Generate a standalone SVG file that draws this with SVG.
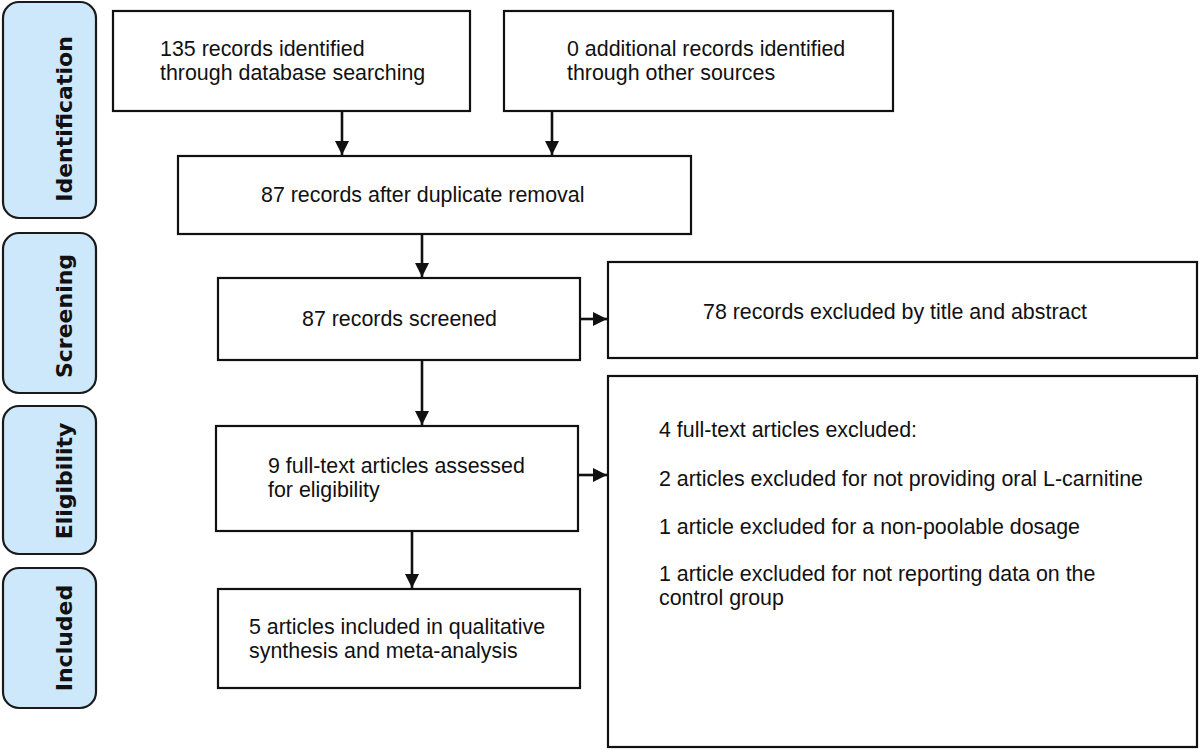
<svg xmlns="http://www.w3.org/2000/svg" width="1200" height="750" viewBox="0 0 1200 750">
<style>
.phase{fill:#cde8fa;stroke:#1a1a1a;stroke-width:2.2}
.ptxt{font-family:"DejaVu Sans",Verdana,sans-serif;font-weight:bold;font-size:22px;fill:#111;text-anchor:middle}
.box{fill:#fff;stroke:#111;stroke-width:2.2}
.t{font-family:"Liberation Sans",Arial,sans-serif;font-size:21.4px;fill:#111}
.conn{stroke:#111;stroke-width:2.6;fill:none}
</style>
<defs>
<marker id="ah" viewBox="0 0 10 10" refX="10" refY="5" markerWidth="5.5" markerHeight="5.5" orient="auto" markerUnits="strokeWidth">
<path d="M0,0 L10,5 L0,10 Z" fill="#111"/>
</marker>
</defs>
<rect width="1200" height="750" fill="#fff"/>
<g id="phase-identification">
<rect class="phase" x="3" y="2" width="93" height="216" rx="16"/>
<text class="ptxt" transform="translate(72,119) rotate(-90)">Identification</text>
</g>
<g id="phase-screening">
<rect class="phase" x="3" y="233" width="93" height="160" rx="16"/>
<text class="ptxt" transform="translate(72,316) rotate(-90)">Screening</text>
</g>
<g id="phase-eligibility">
<rect class="phase" x="3" y="406" width="93" height="148" rx="16"/>
<text class="ptxt" transform="translate(72,481) rotate(-90)">Eligibility</text>
</g>
<g id="phase-included">
<rect class="phase" x="3" y="568" width="93" height="140" rx="16"/>
<text class="ptxt" transform="translate(72,638) rotate(-90)">Included</text>
</g>
<g id="n-database">
<rect class="box" x="113" y="11" width="357" height="100"/>
<text class="t" x="160" y="56">135 records identified</text>
<text class="t" x="160" y="80">through database searching</text>
</g>
<g id="n-other">
<rect class="box" x="504" y="11" width="389" height="100"/>
<text class="t" x="567" y="56">0 additional records identified</text>
<text class="t" x="567" y="80">through other sources</text>
</g>
<g id="n-duplicates">
<rect class="box" x="178" y="156" width="513" height="78"/>
<text class="t" x="261" y="202">87 records after duplicate removal</text>
</g>
<g id="n-screened">
<rect class="box" x="218" y="278" width="362" height="82"/>
<text class="t" x="302" y="326">87 records screened</text>
</g>
<g id="n-excluded-title">
<rect class="box" x="608" y="262" width="589" height="96"/>
<text class="t" x="703" y="319">78 records excluded by title and abstract</text>
</g>
<g id="n-fulltext">
<rect class="box" x="216" y="426" width="362" height="105"/>
<text class="t" x="268" y="473">9 full-text articles assessed</text>
<text class="t" x="268" y="497">for eligibility</text>
</g>
<g id="n-excluded-fulltext">
<rect class="box" x="608" y="376" width="589" height="371"/>
<text class="t" x="659" y="437">4 full-text articles excluded:</text>
<text class="t" x="659" y="486">2 articles excluded for not providing oral L-carnitine</text>
<text class="t" x="659" y="534">1 article excluded for a non-poolable dosage</text>
<text class="t" x="659" y="581">1 article excluded for not reporting data on the</text>
<text class="t" x="659" y="605">control group</text>
</g>
<g id="n-included">
<rect class="box" x="218" y="589" width="362" height="99"/>
<text class="t" x="249" y="634">5 articles included in qualitative</text>
<text class="t" x="249" y="658">synthesis and meta-analysis</text>
</g>
<g id="connectors">
<line class="conn" x1="342" y1="111" x2="342" y2="155" marker-end="url(#ah)"/>
<line class="conn" x1="552" y1="111" x2="552" y2="155" marker-end="url(#ah)"/>
<line class="conn" x1="422" y1="234" x2="422" y2="277" marker-end="url(#ah)"/>
<line class="conn" x1="580" y1="319" x2="607" y2="319" marker-end="url(#ah)"/>
<line class="conn" x1="422" y1="360" x2="422" y2="425" marker-end="url(#ah)"/>
<line class="conn" x1="578" y1="475" x2="607" y2="475" marker-end="url(#ah)"/>
<line class="conn" x1="412" y1="531" x2="412" y2="588" marker-end="url(#ah)"/>
</g>
</svg>
